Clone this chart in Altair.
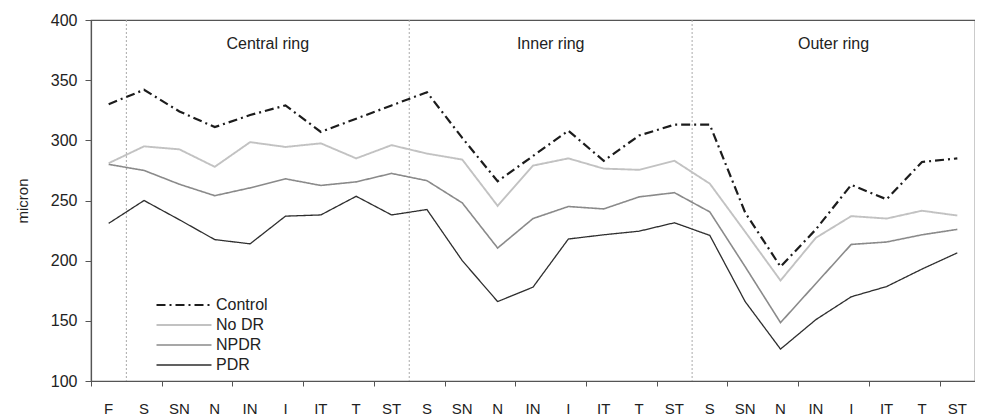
import altair as alt
import pandas as pd

labels = ['F', 'S', 'SN', 'N', 'IN', 'I', 'IT', 'T', 'ST',
          'S', 'SN', 'N', 'IN', 'I', 'IT', 'T', 'ST',
          'S', 'SN', 'N', 'IN', 'I', 'IT', 'T', 'ST']

series_names = ['Control', 'No DR', 'NPDR', 'PDR']

control = [330, 342, 324, 311, 321, 329, 307, 318, 329,
           340, 302, 266, 287, 308, 283, 304, 313,
           313, 240, 195, 226, 263, 251, 282, 285]
no_dr = [281, 295, 292.5, 278, 298.5, 294.5, 297.5, 285, 296,
         289, 284, 245.5, 279, 285, 276.5, 275.5, 283,
         264, 224, 183.5, 219, 237, 235, 241.5, 237.5]
npdr = [280, 275, 263.5, 254, 260.5, 268, 262.5, 265.5, 272.5,
        266.5, 248, 210.5, 235, 245, 243, 253, 256.5,
        240.5, 195, 148.5, 181, 213.5, 215.5, 221.5, 226]
pdr = [231, 250, 234, 217.5, 214, 237, 238, 253.5, 238,
       242.5, 200, 166, 178, 218, 221.5, 224.5, 231.5,
       221, 166, 126.5, 151, 170, 178.5, 193, 206.5]

ring_names = ['Central ring', 'Inner ring', 'Outer ring']
ring_centers = [4.5, 12.5, 20.5]
separators = [0.5, 8.5, 16.5]

colors = ['#1c1c1c', '#c2c2c2', '#8a8a8a', '#2e2e2e']
dashes = [[9, 4, 2, 4], [1, 0], [1, 0], [1, 0]]
widths = [2.2, 1.3, 1.5, 1.5]

rows = []
for name, vals in zip(series_names, [control, no_dr, npdr, pdr]):
    for i, v in enumerate(vals):
        rows.append({'idx': i, 'value': v, 'series': name})
df = pd.DataFrame(rows)

ring_df = pd.DataFrame({'x': ring_centers, 'y': [380] * 3, 'name': ring_names})
sep_df = pd.DataFrame({'x': separators})
lab_df = pd.DataFrame({'idx': list(range(len(labels))), 'lab': labels})

W, H = 884, 361
n = len(labels)

FONT = 'Liberation Sans'

xscale = alt.Scale(domain=[-0.5, n - 0.5], nice=False, zero=False)
yscale = alt.Scale(domain=[100, 400], nice=False, zero=False)

x_axis = alt.Axis(
    values=[k - 0.5 for k in range(n + 1)], labels=False,
    title=None, grid=False, tickSize=5,
    domainColor='#555', tickColor='#555', domainWidth=1.2,
)
y_axis = alt.Axis(
    values=[100, 150, 200, 250, 300, 350, 400], title='micron',
    titleFontSize=15, titleFont=FONT, titleFontWeight='normal', titleColor='#222',
    titlePadding=20, grid=False, tickSize=6, labelPadding=8,
    labelFontSize=16, labelFont=FONT, labelColor='#222',
    domainColor='#555', tickColor='#555', domainWidth=1.2,
)

seps = alt.Chart(sep_df).mark_rule(color='#aaaaaa', strokeDash=[2, 2], strokeWidth=1).encode(
    x=alt.X('x:Q', scale=xscale, axis=x_axis),
    y=alt.value(0), y2=alt.value(H),
)

lines = alt.Chart(df).mark_line().encode(
    x=alt.X('idx:Q', scale=xscale, axis=x_axis),
    y=alt.Y('value:Q', scale=yscale, axis=y_axis),
    color=alt.Color('series:N', scale=alt.Scale(domain=series_names, range=colors),
                    legend=alt.Legend(title=None)),
    strokeDash=alt.StrokeDash('series:N', scale=alt.Scale(domain=series_names, range=dashes),
                              legend=alt.Legend(title=None)),
    strokeWidth=alt.StrokeWidth('series:N', scale=alt.Scale(domain=series_names, range=widths),
                                legend=alt.Legend(title=None)),
)

rings = alt.Chart(ring_df).mark_text(font=FONT, fontSize=16, color='#222', baseline='middle').encode(
    x=alt.X('x:Q', scale=xscale),
    y=alt.Y('y:Q', scale=yscale),
    text='name:N',
)

xlabels = alt.Chart(lab_df).mark_text(font=FONT, fontSize=15, color='#222', baseline='middle').encode(
    x=alt.X('idx:Q', scale=xscale),
    y=alt.value(H + 28),
    text='lab:N',
)

chart = alt.layer(seps, lines, rings, xlabels).properties(
    width=W, height=H,
    padding={'left': 7, 'top': 4, 'right': 0, 'bottom': 0},
).configure_view(
    stroke='#555', strokeWidth=1.2,
).configure_legend(
    orient='none', legendX=85, legendY=277,
    symbolType='M-5,0H5', symbolSize=121, labelFontSize=16, labelFont=FONT,
    labelColor='#222', labelOffset=24, rowPadding=4, padding=0,
)

chart.save('out.html', embed_options={'renderer': 'svg', 'actions': False})
